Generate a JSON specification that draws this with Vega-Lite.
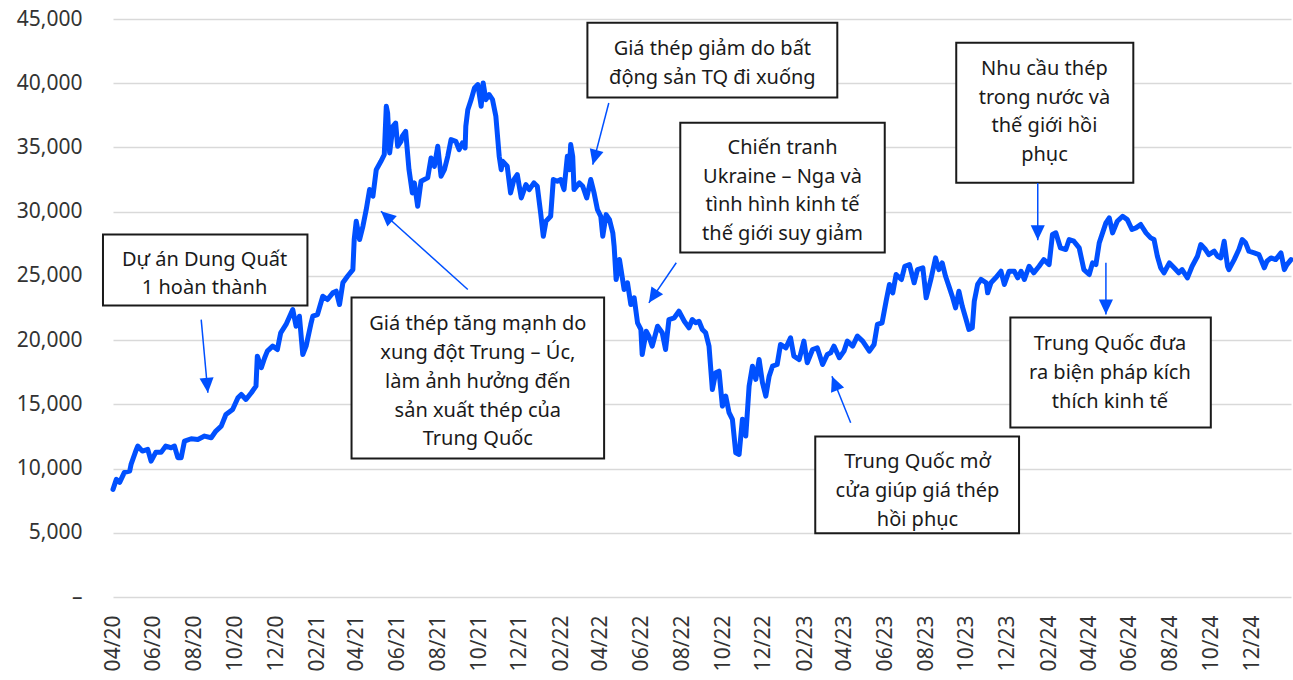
{
  "$schema": "https://vega.github.io/schema/vega-lite/v6.json",
  "width": 1178,
  "height": 578,
  "autosize": {"type": "none"},
  "padding": {"left": 113, "top": 19, "right": 2, "bottom": 83},
  "background": "white",
  "config": {"view": {"stroke": null}, "font": "Noto Sans"},
  "datasets": {
    "price": [
      {"date":"2020-04-01","price":8380},{"date":"2020-04-06","price":9160},{"date":"2020-04-11","price":8920},{"date":"2020-04-18","price":9700},{"date":"2020-04-26","price":9800},{"date":"2020-04-28","price":10320},{"date":"2020-05-06","price":11490},{"date":"2020-05-08","price":11750},{"date":"2020-05-15","price":11360},{"date":"2020-05-23","price":11490},{"date":"2020-05-28","price":10580},{"date":"2020-06-04","price":11260},{"date":"2020-06-12","price":11260},{"date":"2020-06-19","price":11750},{"date":"2020-06-27","price":11620},{"date":"2020-07-02","price":11750},{"date":"2020-07-07","price":10850},{"date":"2020-07-12","price":10850},{"date":"2020-07-17","price":12140},{"date":"2020-07-27","price":12320},{"date":"2020-08-06","price":12270},{"date":"2020-08-16","price":12530},{"date":"2020-08-26","price":12400},{"date":"2020-09-02","price":12920},{"date":"2020-09-10","price":13300},{"date":"2020-09-17","price":14210},{"date":"2020-09-27","price":14600},{"date":"2020-10-05","price":15510},{"date":"2020-10-10","price":15770},{"date":"2020-10-17","price":15380},{"date":"2020-10-25","price":15900},{"date":"2020-11-01","price":16420},{"date":"2020-11-03","price":18750},{"date":"2020-11-09","price":17850},{"date":"2020-11-14","price":18630},{"date":"2020-11-18","price":19140},{"date":"2020-11-26","price":19530},{"date":"2020-12-03","price":19270},{"date":"2020-12-08","price":20570},{"date":"2020-12-16","price":21220},{"date":"2020-12-26","price":22380},{"date":"2020-12-31","price":21080},
      {"date":"2021-01-05","price":21860},{"date":"2021-01-10","price":18880},{"date":"2021-01-15","price":19530},{"date":"2021-01-22","price":21220},{"date":"2021-01-25","price":21860},{"date":"2021-02-01","price":21990},{"date":"2021-02-09","price":23420},{"date":"2021-02-16","price":23160},{"date":"2021-02-24","price":23680},{"date":"2021-03-01","price":23810},{"date":"2021-03-06","price":22770},{"date":"2021-03-11","price":24460},{"date":"2021-03-18","price":24970},{"date":"2021-03-26","price":25490},{"date":"2021-03-28","price":27830},{"date":"2021-03-31","price":29250},{"date":"2021-04-05","price":27830},{"date":"2021-04-10","price":28860},{"date":"2021-04-15","price":30160},{"date":"2021-04-20","price":31720},{"date":"2021-04-25","price":31200},{"date":"2021-04-30","price":33270},{"date":"2021-05-07","price":33920},{"date":"2021-05-12","price":34440},{"date":"2021-05-15","price":38200},{"date":"2021-05-17","price":37690},{"date":"2021-05-20","price":34570},{"date":"2021-05-25","price":36640},{"date":"2021-05-29","price":36900},{"date":"2021-06-01","price":35090},{"date":"2021-06-06","price":35480},{"date":"2021-06-08","price":35870},{"date":"2021-06-13","price":36250},{"date":"2021-06-18","price":33270},{"date":"2021-06-23","price":31460},{"date":"2021-06-26","price":32240},{"date":"2021-07-01","price":30420},{"date":"2021-07-06","price":32370},{"date":"2021-07-11","price":32500},{"date":"2021-07-16","price":32630},{"date":"2021-07-21","price":34180},{"date":"2021-07-26","price":33530},{"date":"2021-07-31","price":35090},{"date":"2021-08-05","price":32760},{"date":"2021-08-10","price":33270},{"date":"2021-08-15","price":34310},{"date":"2021-08-20","price":35610},{"date":"2021-08-27","price":35480},{"date":"2021-09-01","price":34830},{"date":"2021-09-06","price":35350},{"date":"2021-09-10","price":34960},{"date":"2021-09-11","price":36640},{"date":"2021-09-14","price":37940},{"date":"2021-09-19","price":38720},{"date":"2021-09-24","price":39630},{"date":"2021-09-29","price":39890},{"date":"2021-10-04","price":38200},{"date":"2021-10-07","price":40020},{"date":"2021-10-11","price":38720},{"date":"2021-10-16","price":39110},{"date":"2021-10-21","price":38720},{"date":"2021-10-26","price":37420},{"date":"2021-10-31","price":34310},{"date":"2021-11-03","price":33270},{"date":"2021-11-05","price":33920},{"date":"2021-11-12","price":33530},{"date":"2021-11-17","price":31460},{"date":"2021-11-22","price":32500},{"date":"2021-11-27","price":32890},{"date":"2021-12-03","price":31070},{"date":"2021-12-10","price":32110},{"date":"2021-12-15","price":31720},{"date":"2021-12-22","price":32240},{"date":"2021-12-27","price":31980},
      {"date":"2022-01-01","price":29910},{"date":"2022-01-05","price":28090},{"date":"2022-01-09","price":29250},{"date":"2022-01-16","price":29640},{"date":"2022-01-20","price":32500},{"date":"2022-01-26","price":32370},{"date":"2022-01-31","price":32500},{"date":"2022-02-05","price":31720},{"date":"2022-02-10","price":34310},{"date":"2022-02-13","price":33270},{"date":"2022-02-15","price":35220},{"date":"2022-02-18","price":34310},{"date":"2022-02-20","price":31720},{"date":"2022-02-28","price":32240},{"date":"2022-03-05","price":31980},{"date":"2022-03-11","price":31070},{"date":"2022-03-17","price":32500},{"date":"2022-03-22","price":31460},{"date":"2022-03-27","price":30160},{"date":"2022-04-01","price":29640},{"date":"2022-04-04","price":28090},{"date":"2022-04-09","price":29770},{"date":"2022-04-14","price":29380},{"date":"2022-04-19","price":28350},{"date":"2022-04-21","price":27310},{"date":"2022-04-24","price":24720},{"date":"2022-04-29","price":26270},{"date":"2022-05-06","price":23940},{"date":"2022-05-11","price":24460},{"date":"2022-05-16","price":22770},{"date":"2022-05-21","price":23290},{"date":"2022-05-26","price":21350},{"date":"2022-05-31","price":20830},{"date":"2022-06-02","price":18880},{"date":"2022-06-08","price":20690},{"date":"2022-06-12","price":20310},{"date":"2022-06-17","price":19530},{"date":"2022-06-25","price":21080},{"date":"2022-07-02","price":20570},{"date":"2022-07-07","price":19270},{"date":"2022-07-12","price":21600},{"date":"2022-07-20","price":21740},{"date":"2022-07-27","price":22250},{"date":"2022-08-04","price":21470},{"date":"2022-08-11","price":20960},{"date":"2022-08-16","price":21600},{"date":"2022-08-21","price":21350},{"date":"2022-08-26","price":21470},{"date":"2022-08-31","price":20830},{"date":"2022-09-05","price":20570},{"date":"2022-09-10","price":19530},{"date":"2022-09-15","price":16160},{"date":"2022-09-20","price":17460},{"date":"2022-09-25","price":17580},{"date":"2022-09-30","price":14860},{"date":"2022-10-05","price":15640},{"date":"2022-10-10","price":14350},{"date":"2022-10-15","price":13830},{"date":"2022-10-20","price":11230},{"date":"2022-10-25","price":11100},{"date":"2022-10-30","price":13830},{"date":"2022-11-04","price":12530},{"date":"2022-11-09","price":16420},{"date":"2022-11-14","price":17970},{"date":"2022-11-19","price":16940},{"date":"2022-11-24","price":18490},{"date":"2022-11-29","price":16680},{"date":"2022-12-04","price":15640},{"date":"2022-12-09","price":17190},{"date":"2022-12-14","price":17970},{"date":"2022-12-21","price":18100},{"date":"2022-12-26","price":19660},
      {"date":"2023-01-03","price":19400},{"date":"2023-01-10","price":20180},{"date":"2023-01-15","price":18750},{"date":"2023-01-23","price":18490},{"date":"2023-01-30","price":19920},{"date":"2023-02-04","price":18240},{"date":"2023-02-12","price":19270},{"date":"2023-02-19","price":19400},{"date":"2023-02-27","price":18100},{"date":"2023-03-06","price":18880},{"date":"2023-03-11","price":19010},{"date":"2023-03-16","price":19530},{"date":"2023-03-24","price":18630},{"date":"2023-03-31","price":19140},{"date":"2023-04-05","price":19920},{"date":"2023-04-13","price":19530},{"date":"2023-04-20","price":20310},{"date":"2023-04-28","price":19920},{"date":"2023-05-08","price":19140},{"date":"2023-05-15","price":19660},{"date":"2023-05-20","price":21220},{"date":"2023-05-27","price":21350},{"date":"2023-06-02","price":23030},{"date":"2023-06-07","price":24330},{"date":"2023-06-12","price":23680},{"date":"2023-06-17","price":25110},{"date":"2023-06-25","price":24720},{"date":"2023-06-30","price":25750},{"date":"2023-07-07","price":25880},{"date":"2023-07-14","price":24460},{"date":"2023-07-19","price":25490},{"date":"2023-07-27","price":25630},{"date":"2023-08-01","price":23290},{"date":"2023-08-08","price":24720},{"date":"2023-08-15","price":26400},{"date":"2023-08-20","price":25490},{"date":"2023-08-25","price":26010},{"date":"2023-08-30","price":24970},{"date":"2023-09-04","price":24200},{"date":"2023-09-09","price":23420},{"date":"2023-09-14","price":22510},{"date":"2023-09-19","price":23810},{"date":"2023-09-24","price":22640},{"date":"2023-09-29","price":21740},{"date":"2023-10-04","price":20830},{"date":"2023-10-09","price":20960},{"date":"2023-10-12","price":23030},{"date":"2023-10-17","price":24330},{"date":"2023-10-22","price":24720},{"date":"2023-10-30","price":24460},{"date":"2023-11-01","price":23680},{"date":"2023-11-06","price":24460},{"date":"2023-11-13","price":24850},{"date":"2023-11-21","price":25360},{"date":"2023-11-26","price":24330},{"date":"2023-12-03","price":25360},{"date":"2023-12-11","price":25360},{"date":"2023-12-16","price":24850},{"date":"2023-12-21","price":25360},{"date":"2023-12-26","price":24720},
      {"date":"2024-01-02","price":25750},{"date":"2024-01-09","price":25240},{"date":"2024-01-17","price":25750},{"date":"2024-01-24","price":26270},{"date":"2024-02-01","price":25880},{"date":"2024-02-06","price":28220},{"date":"2024-02-11","price":28350},{"date":"2024-02-18","price":27180},{"date":"2024-02-26","price":27050},{"date":"2024-03-02","price":27830},{"date":"2024-03-09","price":27700},{"date":"2024-03-17","price":27180},{"date":"2024-03-24","price":25490},{"date":"2024-04-01","price":25110},{"date":"2024-04-06","price":26010},{"date":"2024-04-11","price":25880},{"date":"2024-04-16","price":27570},{"date":"2024-04-21","price":28350},{"date":"2024-04-26","price":29130},{"date":"2024-05-01","price":29520},{"date":"2024-05-06","price":28350},{"date":"2024-05-13","price":29250},{"date":"2024-05-21","price":29640},{"date":"2024-05-28","price":29380},{"date":"2024-06-04","price":28610},{"date":"2024-06-10","price":28740},{"date":"2024-06-17","price":29000},{"date":"2024-06-25","price":28350},{"date":"2024-07-02","price":27960},{"date":"2024-07-07","price":27830},{"date":"2024-07-12","price":26530},{"date":"2024-07-17","price":25630},{"date":"2024-07-22","price":25240},{"date":"2024-07-30","price":26010},{"date":"2024-08-06","price":25630},{"date":"2024-08-13","price":25240},{"date":"2024-08-18","price":25490},{"date":"2024-08-26","price":24850},{"date":"2024-09-02","price":25750},{"date":"2024-09-10","price":26530},{"date":"2024-09-15","price":27440},{"date":"2024-09-22","price":27050},{"date":"2024-09-27","price":26660},{"date":"2024-10-05","price":26920},{"date":"2024-10-10","price":26530},{"date":"2024-10-15","price":26400},{"date":"2024-10-20","price":27700},{"date":"2024-10-25","price":25750},{"date":"2024-10-27","price":25490},{"date":"2024-11-04","price":26270},{"date":"2024-11-11","price":27050},{"date":"2024-11-16","price":27830},{"date":"2024-11-21","price":27570},{"date":"2024-11-26","price":26920},{"date":"2024-12-04","price":26790},{"date":"2024-12-11","price":26660},{"date":"2024-12-19","price":25630},{"date":"2024-12-23","price":26140},{"date":"2024-12-29","price":26400},
      {"date":"2025-01-05","price":26270},{"date":"2025-01-13","price":26790},{"date":"2025-01-18","price":25490},{"date":"2025-01-22","price":25880},{"date":"2025-01-28","price":26270}
    ],
    "boxes": [
      {"xs":"2020-03-17","xe":"2021-01-17","ys":28220,"ye":22700},
      {"xs":"2021-03-24","xe":"2022-04-06","ys":23320,"ye":10790},
      {"xs":"2022-03-12","xe":"2023-03-21","ys":44710,"ye":38880},
      {"xs":"2022-07-29","xe":"2023-05-31","ys":36930,"ye":26820},
      {"xs":"2023-09-15","xe":"2024-06-06","ys":43160,"ye":32260},
      {"xs":"2023-12-05","xe":"2024-09-30","ys":21760,"ye":13200},
      {"xs":"2023-02-16","xe":"2023-12-18","ys":12500,"ye":4960}
    ],
    "notes": [
      {"date":"2020-08-16","value":26270,"label":"Dự án Dung Quất\n1 hoàn thành"},
      {"date":"2021-09-29","value":21220,"label":"Giá thép tăng mạnh do\nxung đột Trung – Úc,\nlàm ảnh hưởng đến\nsản xuất thép của\nTrung Quốc"},
      {"date":"2022-09-15","value":42670,"label":"Giá thép giảm do bất\nđộng sản TQ đi xuống"},
      {"date":"2022-12-29","value":34960,"label":"Chiến tranh\nUkraine – Nga và\ntình hình kinh tế\nthế giới suy giảm"},
      {"date":"2024-01-25","value":41110,"label":"Nhu cầu thép\ntrong nước và\nthế giới hồi\nphục"},
      {"date":"2024-05-02","value":19660,"label":"Trung Quốc đưa\nra biện pháp kích\nthích kinh tế"},
      {"date":"2023-07-19","value":10500,"label":"Trung Quốc mở\ncửa giúp giá thép\nhồi phục"}
    ],
    "arrows": [
      {"xs":"2020-08-11","ys":21600,"xe":"2020-08-21","ye":15900,"angle":175},
      {"xs":"2021-09-14","ys":23940,"xe":"2021-05-07","ye":30030,"angle":312},
      {"xs":"2022-04-13","ys":38460,"xe":"2022-03-20","ye":33660,"angle":195},
      {"xs":"2022-07-23","ys":26020,"xe":"2022-06-12","ye":22900,"angle":214},
      {"xs":"2024-01-15","ys":32240,"xe":"2024-01-15","ye":27770,"angle":180},
      {"xs":"2024-04-26","ys":26020,"xe":"2024-04-26","ye":21990,"angle":180},
      {"xs":"2023-04-10","ys":13570,"xe":"2023-03-13","ye":17190,"angle":338}
    ]
  },
  "layer": [
    {
      "data": {"name": "price"},
      "mark": {"type": "line", "color": "#0050ff", "strokeWidth": 5, "strokeJoin": "round", "strokeCap": "round"},
      "encoding": {
        "x": {
          "field": "date", "type": "temporal", "title": null,
          "scale": {"type": "utc", "domain": [{"year": 2020, "month": 4, "date": 1, "utc": true}, {"year": 2025, "month": 1, "date": 28, "utc": true}]},
          "axis": {
            "title": null, "domain": false, "ticks": false, "grid": false,
            "labelAngle": 270, "labelPadding": 18, "labelFontSize": 21, "labelFont": "Noto Sans", "labelColor": "#333333",
            "labelExpr": "utcFormat(datum.value, '%m/%y')",
            "labelOverlap": false,
            "values": [
              {"year":2020,"month":4,"date":1,"utc":true},{"year":2020,"month":6,"date":1,"utc":true},{"year":2020,"month":8,"date":1,"utc":true},{"year":2020,"month":10,"date":1,"utc":true},{"year":2020,"month":12,"date":1,"utc":true},
              {"year":2021,"month":2,"date":1,"utc":true},{"year":2021,"month":4,"date":1,"utc":true},{"year":2021,"month":6,"date":1,"utc":true},{"year":2021,"month":8,"date":1,"utc":true},{"year":2021,"month":10,"date":1,"utc":true},{"year":2021,"month":12,"date":1,"utc":true},
              {"year":2022,"month":2,"date":1,"utc":true},{"year":2022,"month":4,"date":1,"utc":true},{"year":2022,"month":6,"date":1,"utc":true},{"year":2022,"month":8,"date":1,"utc":true},{"year":2022,"month":10,"date":1,"utc":true},{"year":2022,"month":12,"date":1,"utc":true},
              {"year":2023,"month":2,"date":1,"utc":true},{"year":2023,"month":4,"date":1,"utc":true},{"year":2023,"month":6,"date":1,"utc":true},{"year":2023,"month":8,"date":1,"utc":true},{"year":2023,"month":10,"date":1,"utc":true},{"year":2023,"month":12,"date":1,"utc":true},
              {"year":2024,"month":2,"date":1,"utc":true},{"year":2024,"month":4,"date":1,"utc":true},{"year":2024,"month":6,"date":1,"utc":true},{"year":2024,"month":8,"date":1,"utc":true},{"year":2024,"month":10,"date":1,"utc":true},{"year":2024,"month":12,"date":1,"utc":true}
            ]
          }
        },
        "y": {
          "field": "price", "type": "quantitative", "title": null,
          "scale": {"domain": [0, 45000], "nice": false},
          "axis": {
            "title": null, "domain": false, "ticks": false,
            "values": [0, 5000, 10000, 15000, 20000, 25000, 30000, 35000, 40000, 45000],
            "labelExpr": "datum.value === 0 ? '–' : format(datum.value, ',')",
            "labelPadding": 31, "labelFontSize": 21, "labelFont": "Noto Sans", "labelColor": "#333333",
            "gridColor": "#d9d9d9", "gridWidth": 1.7
          }
        }
      }
    },
    {
      "data": {"name": "boxes"},
      "mark": {"type": "rect", "fill": "white", "stroke": "#1a1a1a", "strokeWidth": 2},
      "encoding": {
        "x": {"field": "xs", "type": "temporal", "title": null},
        "x2": {"field": "xe"},
        "y": {"field": "ys", "type": "quantitative", "title": null},
        "y2": {"field": "ye"}
      }
    },
    {
      "data": {"name": "notes"},
      "mark": {"type": "text", "align": "center", "baseline": "middle", "lineBreak": "\n", "lineHeight": 28.7, "fontSize": 20, "font": "Noto Sans", "color": "#1a1a1a"},
      "encoding": {
        "x": {"field": "date", "type": "temporal", "title": null},
        "y": {"field": "value", "type": "quantitative", "title": null},
        "text": {"field": "label"}
      }
    },
    {
      "data": {"name": "arrows"},
      "mark": {"type": "rule", "color": "#0050ff", "strokeWidth": 1.5},
      "encoding": {
        "x": {"field": "xs", "type": "temporal", "title": null},
        "y": {"field": "ys", "type": "quantitative", "title": null},
        "x2": {"field": "xe"},
        "y2": {"field": "ye"}
      }
    },
    {
      "data": {"name": "arrows"},
      "mark": {"type": "point", "shape": "M0,0L-0.47,1L0.47,1Z", "size": 900, "filled": true, "color": "#0050ff", "opacity": 1, "strokeWidth": 0},
      "encoding": {
        "x": {"field": "xe", "type": "temporal", "title": null},
        "y": {"field": "ye", "type": "quantitative", "title": null},
        "angle": {"field": "angle", "type": "quantitative", "scale": null}
      }
    }
  ]
}
